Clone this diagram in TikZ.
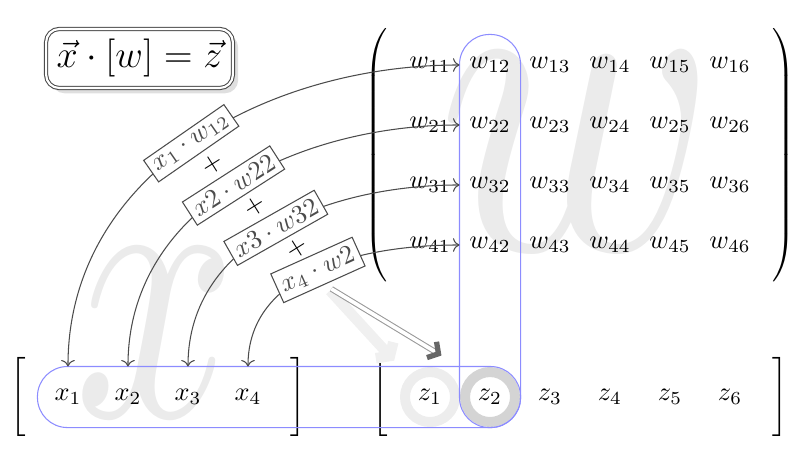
\documentclass[tikz,border=0pt]{standalone}
\usepackage{amsmath,amssymb}
\usetikzlibrary{arrows.meta,matrix,fit,calc,shadows}

\begin{document}
\begin{tikzpicture}[
    x=0.8cm, y=0.8cm,
    cellbox/.style={minimum size=0.8cm, inner sep=0pt, anchor=center},
    vec/.style={matrix of math nodes, nodes={cellbox}, column sep=0pt,
        left delimiter={[}, right delimiter={]}},
    mat/.style={matrix of math nodes, nodes={cellbox}, column sep=0pt, row sep=0pt,
        left delimiter=(, right delimiter=)},
    ghost/.style={text=black!8, inner sep=0pt, transform shape},
    title/.style={draw=black!70, double, double distance=0.8pt, rounded corners=5pt,
        fill=white, drop shadow={opacity=0.25, shadow xshift=2pt, shadow yshift=-2pt},
        inner sep=4pt, font=\Large},
    selbox/.style={draw=blue!45, rounded corners=0.4cm, inner sep=0pt},
    ring/.style={circle, minimum size=0.667cm, line width=3.8pt},
    link/.style={{To}-{To}, black!70},
    prod/.style={draw=black!70, fill=white, sloped, inner sep=2pt, pos=0.5},
    plus/.style={rotate=32, inner sep=0pt},
    bigarrow/.style={draw=black!40, double=white, double distance=1.4pt,
        -{Straight Barb[black!60, line width=2pt, length=3pt, width=7pt]},
        shorten <=3pt, shorten >=8pt},
    shade/.style={black!6, line width=4pt, -{Straight Barb[length=3pt, width=9pt]},
        shorten <=3pt, shorten >=3pt}
]
\useasboundingbox (0,0) rectangle (13.333,7.85);

% ghost letters
\node[ghost, xscale=10.8, yscale=14.7] (bigx) at (2.6,2.3) {$x$};
\node[ghost, xscale=14.3, yscale=17.2] (bigw) at (9.617,5.317) {$w$};

\node[title] (eq) at (2.325,6.875) {$\vec{x}\cdot[w]=\vec{z}$};

\matrix[mat] (w) at (9.667,5.267) {
    w_{11} & w_{12} & w_{13} & w_{14} & w_{15} & w_{16} \\
    w_{21} & w_{22} & w_{23} & w_{24} & w_{25} & w_{26} \\
    w_{31} & w_{32} & w_{33} & w_{34} & w_{35} & w_{36} \\
    w_{41} & w_{42} & w_{43} & w_{44} & w_{45} & w_{46} \\
};
\matrix[vec] (x) at (2.633,1.233) {
    x_1 & x_2 & x_3 & x_4 \\
};
\matrix[vec] (z) at (9.667,1.233) {
    z_1 & z_2 & z_3 & z_4 & z_5 & z_6 \\
};

\node[ring, draw=black!7] (r1) at (z-1-1) {};
\node[ring, draw=black!17] (r2) at (z-1-2) {};

\node[selbox, fit=(x-1-1)(z-1-2)] (rowsel) {};
\node[selbox, fit=(w-1-2)(z-1-2)] (colsel) {};

\draw[link] (x-1-1.north) to[out=90, in=180] node[prod] (l1) {$x_1 \cdot w_{12}$} (w-1-2.west);
\draw[link] (x-1-2.north) to[out=90, in=180] node[prod] (l2) {$x2 \cdot w22$} (w-2-2.west);
\draw[link] (x-1-3.north) to[out=90, in=180] node[prod] (l3) {$x3 \cdot w32$} (w-3-2.west);
\draw[link] (x-1-4.north) to[out=90, in=180] node[prod] (l4) {$x_4 \cdot w2$} (w-4-2.west);

\node[plus] (p1) at ($(l1)!0.5!(l2)$) {$+$};
\node[plus] (p2) at ($(l2)!0.5!(l3)$) {$+$};
\node[plus] (p3) at ($(l3)!0.5!(l4)$) {$+$};

\draw[shade] (l4.south) -- (z-1-1.north west);
\draw[bigarrow] (l4.south) -- (z-1-2.north west);

\end{tikzpicture}
\end{document}
